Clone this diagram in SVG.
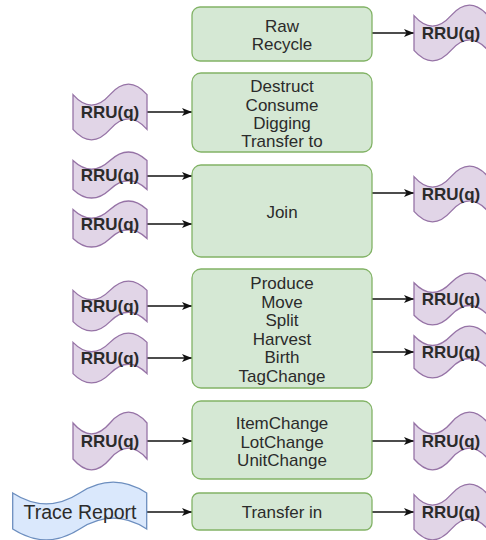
<svg xmlns="http://www.w3.org/2000/svg" xmlns:xlink="http://www.w3.org/1999/xlink" width="486" height="540" viewBox="0 0 486 540">
<style>
.box{fill:#d5e8d4;stroke:#82b366;stroke-width:1.3}
.rru{fill:#e1d5e7;stroke:#9673a6;stroke-width:1.3}
.blue{fill:#dae8fc;stroke:#6c8ebf;stroke-width:1.3}
.t{font-family:"Liberation Sans",Arial,sans-serif;font-size:17px;fill:#2b2b2b;text-anchor:middle}
.rt{font-family:"Liberation Sans",Arial,sans-serif;font-size:17px;font-weight:bold;fill:#2b2b2b;text-anchor:middle}
.tr{font-family:"Liberation Sans",Arial,sans-serif;font-size:19.5px;fill:#2b2b2b;text-anchor:middle}
.e{stroke:#111;stroke-width:1.4;fill:none;marker-end:url(#arr)}
</style>
<defs>
<marker id="arr" viewBox="0 0 10 8" refX="10" refY="4" markerWidth="10" markerHeight="8" markerUnits="userSpaceOnUse" orient="auto">
<path d="M0,0 L10,4 L0,8 L2.5,4 Z" fill="#111"/>
</marker>
<path id="t48" d="M0,9.6 Q18.5,26.88 37,9.6 Q55.5,-7.68 74,9.6 L74,38.4 Q55.5,21.12 37,38.4 Q18.5,55.68 0,38.4 Z"/>
<path id="t52" d="M0,10.4 Q18.5,29.12 37,10.4 Q55.5,-8.32 74,10.4 L74,41.6 Q55.5,22.88 37,41.6 Q18.5,60.32 0,41.6 Z"/>
<path id="t54" d="M0,10.8 Q18.5,30.24 37,10.8 Q55.5,-8.64 74,10.8 L74,43.2 Q55.5,23.76 37,43.2 Q18.5,62.64 0,43.2 Z"/>
<path id="t58" d="M0,11.6 Q18.5,32.48 37,11.6 Q55.5,-9.28 74,11.6 L74,46.4 Q55.5,25.52 37,46.4 Q18.5,67.28 0,46.4 Z"/>
<path id="t60" d="M0,12 Q18.5,33.6 37,12 Q55.5,-9.6 74,12 L74,48 Q55.5,26.4 37,48 Q18.5,69.6 0,48 Z"/>
</defs>
<rect width="486" height="540" fill="#ffffff"/>

<g id="connectors">
<line class="e" x1="372" y1="33" x2="414" y2="33"/>
<line class="e" x1="147" y1="112" x2="192" y2="112"/>
<line class="e" x1="147" y1="176" x2="192" y2="176"/>
<line class="e" x1="147" y1="224" x2="192" y2="224"/>
<line class="e" x1="372" y1="193" x2="414" y2="193"/>
<line class="e" x1="147" y1="306" x2="192" y2="306"/>
<line class="e" x1="147" y1="358" x2="192" y2="358"/>
<line class="e" x1="372" y1="299" x2="414" y2="299"/>
<line class="e" x1="372" y1="352" x2="414" y2="352"/>
<line class="e" x1="147" y1="441" x2="192" y2="441"/>
<line class="e" x1="372" y1="441" x2="414" y2="441"/>
<line class="e" x1="147" y1="512" x2="192" y2="512"/>
<line class="e" x1="372" y1="512" x2="414" y2="512"/>
</g>

<g id="box1"><rect class="box" x="192" y="7" width="180" height="54" rx="8"/>
<text class="t" x="282" y="32">Raw</text><text class="t" x="282" y="49.5">Recycle</text></g>
<g id="box2"><rect class="box" x="192" y="73" width="180" height="79" rx="9"/>
<text class="t" x="282" y="92.2">Destruct</text><text class="t" x="282" y="110.5">Consume</text><text class="t" x="282" y="128.8">Digging</text><text class="t" x="282" y="147.1">Transfer to</text></g>
<g id="box3"><rect class="box" x="192" y="165" width="180" height="92" rx="9"/>
<text class="t" x="282" y="217.7">Join</text></g>
<g id="box4"><rect class="box" x="192" y="269" width="180" height="119" rx="9"/>
<text class="t" x="282" y="289">Produce</text><text class="t" x="282" y="307.5">Move</text><text class="t" x="282" y="326">Split</text><text class="t" x="282" y="344.5">Harvest</text><text class="t" x="282" y="363">Birth</text><text class="t" x="282" y="381.5">TagChange</text></g>
<g id="box5"><rect class="box" x="192" y="401" width="180" height="78" rx="9"/>
<text class="t" x="282" y="429">ItemChange</text><text class="t" x="282" y="447.5">LotChange</text><text class="t" x="282" y="466">UnitChange</text></g>
<g id="box6"><rect class="box" x="192" y="493" width="180" height="37" rx="7"/>
<text class="t" x="282" y="517.7">Transfer in</text></g>

<g id="rru_r1"><use xlink:href="#t58" class="rru" x="414" y="4"/><text class="rt" x="451" y="39">RRU(q)</text></g>
<g id="rru_l2"><use xlink:href="#t58" class="rru" x="73" y="83"/><text class="rt" x="110" y="118">RRU(q)</text></g>
<g id="rru_l3a"><use xlink:href="#t48" class="rru" x="73" y="151"/><text class="rt" x="110" y="181">RRU(q)</text></g>
<g id="rru_l3b"><use xlink:href="#t48" class="rru" x="73" y="200"/><text class="rt" x="110" y="230">RRU(q)</text></g>
<g id="rru_r3"><use xlink:href="#t58" class="rru" x="414" y="165"/><text class="rt" x="451" y="200">RRU(q)</text></g>
<g id="rru_l4a"><use xlink:href="#t52" class="rru" x="73" y="280"/><text class="rt" x="110" y="312">RRU(q)</text></g>
<g id="rru_l4b"><use xlink:href="#t52" class="rru" x="73" y="332"/><text class="rt" x="110" y="364">RRU(q)</text></g>
<g id="rru_r4a"><use xlink:href="#t54" class="rru" x="414" y="272"/><text class="rt" x="451" y="305">RRU(q)</text></g>
<g id="rru_r4b"><use xlink:href="#t54" class="rru" x="414" y="325"/><text class="rt" x="451" y="358">RRU(q)</text></g>
<g id="rru_l5"><use xlink:href="#t60" class="rru" x="73" y="411"/><text class="rt" x="110" y="447">RRU(q)</text></g>
<g id="rru_r5"><use xlink:href="#t60" class="rru" x="414" y="411"/><text class="rt" x="451" y="447">RRU(q)</text></g>
<g id="trace_report"><path class="blue" transform="translate(12.7,481)" d="M0,12 Q33.5,33.6 67,12 Q100.5,-9.6 134,12 L134,48 Q100.5,26.4 67,48 Q33.5,69.6 0,48 Z"/><text class="tr" x="80" y="519">Trace Report</text></g>
<g id="rru_r6"><use xlink:href="#t58" class="rru" x="414" y="483"/><text class="rt" x="451" y="518">RRU(q)</text></g>
</svg>
